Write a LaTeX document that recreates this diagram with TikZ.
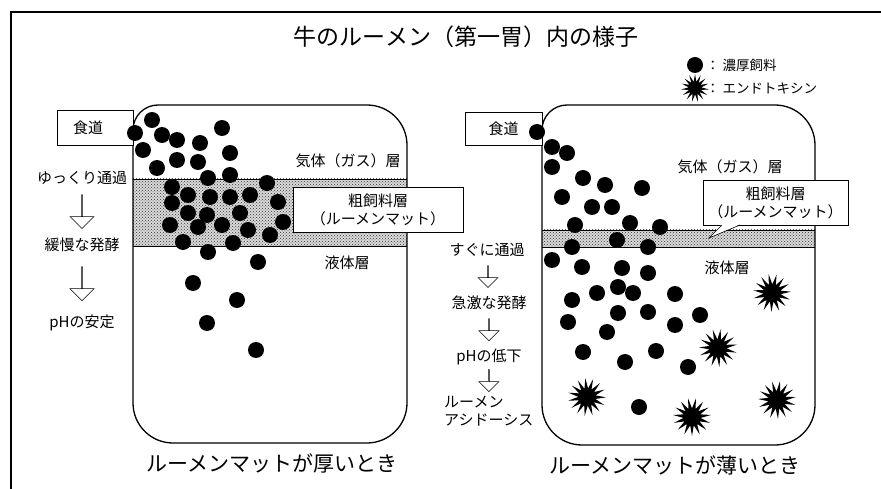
\documentclass[tikz,border=0pt]{standalone}
\usepackage{fontspec}
\newfontfamily\jp{Noto Sans CJK JP}
\usetikzlibrary{shapes.geometric,shapes.arrows,patterns,positioning,calc}

\tikzset{
	every node/.style={font=\jp\fontsize{15}{18}\selectfont, inner sep=1pt},
	wall/.style={line width=1.3pt},
	tagbox/.style={draw, fill=white, line width=0.6pt, align=center},
	pellet/.style={circle, fill=black, minimum size=16pt, inner sep=0pt},
	toxin/.style={star, star points=15, star point ratio=2.2, fill=black, minimum size=38pt, inner sep=0pt},
	flow/.style={single arrow, draw, fill=white, line width=0.5pt, shape border rotate=270, inner sep=0pt, minimum height=34pt, minimum width=24pt, single arrow head extend=6.5pt},
	flowsmall/.style={flow, minimum height=22pt, minimum width=20pt, single arrow head extend=5.5pt},
}

\begin{document}
\begin{tikzpicture}[x=1pt,y=-1pt]
	\useasboundingbox (0,0) rectangle (881,489);
	\draw[line width=1.2pt] (881,12) -- (11,12) -- (11,489);

	\node[font=\jp\fontsize{23}{27}\selectfont] (title) at (466,37) {牛のルーメン（第一胃）内の様子};
	\node[pellet] (keyfeed) at (695,65) {};
	\node[toxin, minimum size=28pt] (keytox) at (695,88) {};
	\node[anchor=west, font=\jp\fontsize{13.5}{16}\selectfont] (keyfeedtxt) at (705,65) {： 濃厚飼料};
	\node[anchor=west, font=\jp\fontsize{13.5}{16}\selectfont] (keytoxtxt) at (705,88) {： エンドトキシン};

	\fill[gray!30] (133,179) rectangle (407,246);
	\fill[pattern=crosshatch dots, pattern color=black!80] (133,179) rectangle (407,246);
	\fill[gray!30] (542,230) rectangle (815,247);
	\fill[pattern=crosshatch dots, pattern color=black!80] (542,230) rectangle (815,247);

	\draw[wall] (133,145) [rounded corners=40pt] -- (133,443) -- (407,443) -- (407,105) [rounded corners=25pt] -- (133,105) -- (133,135);
	\draw[wall] (542,145) [rounded corners=40pt] -- (542,445) -- (815,445) -- (815,105) [rounded corners=25pt] -- (542,105) -- (542,135);
	\draw[line width=0.9pt] (133,179) -- (407,179) (133,246) -- (407,246);
	\draw[line width=0.9pt] (542,230) -- (815,230) (542,247) -- (815,247);

	\node[tagbox, minimum width=76pt, minimum height=35pt] (gulletl) at (95,127.5) {食道\hspace{14pt}};
	\node[tagbox, minimum width=77pt, minimum height=33pt] (gulletr) at (503.5,128.5) {食道};

	\node (gasl) at (348,161) {気体（ガス）層};
	\node[tagbox, minimum width=170pt, minimum height=45pt] (matl) at (378,209.5) {粗飼料層\\（ルーメンマット）};
	\node (liql) at (347,263) {液体層};
	\node (gasr) at (730,167) {気体（ガス）層};
	\node[tagbox, minimum width=145pt, minimum height=45pt] (matr) at (775.5,202.5) {粗飼料層\\（ルーメンマット）};
	\coordinate (matrtip) at (709,238);
	\fill[white] (722,224.4) -- (matrtip) -- (740,224.4) -- cycle;
	\draw[line width=0.6pt] (722,225) -- (matrtip) -- (740,225);
	\node (liqr) at (727,268) {液体層};

	\node (slowpass) at (82,178) {ゆっくり通過};
	\node (slowferm) at (82,245) {緩慢な発酵};
	\node (phstable) at (82,323) {pHの安定};
	\path (slowpass.south) -- node[flow] {} (slowferm.north);
	\path (slowferm.south) -- node[flow] {} (phstable.north);

	\node (fastpass) at (487,250) {すぐに通過};
	\node (fastferm) at (489,303) {急激な発酵};
	\node (phdrop) at (489,357) {pHの低下};
	\node[anchor=west, align=left] (acidosis) at (443,411) {ルーメン\\アシドーシス};
	\path (fastpass.south) -- node[flowsmall] {} (fastferm.north);
	\path (fastferm.south) -- node[flowsmall] {} (phdrop.north);
	\path (phdrop.south) -- node[flowsmall] {} (acidosis.north);

	\foreach \x/\y [count=\i] in {152/120, 135/133, 162/135, 177/140, 222/128, 143/150, 200/143, 230/153, 177/160, 157/168, 198/162, 208/178, 230/175, 172/187, 267/183, 188/195, 210/197, 230/197, 250/195, 172/203, 278/202, 188/213, 207/215, 240/213, 170/225, 198/227, 222/225, 248/230, 283/222, 270/235, 183/242, 233/243, 208/252, 258/262, 193/283, 237/300, 207/323, 256/350}
		\node[pellet] (thick\i) at (\x,\y) {};
	\foreach \x/\y [count=\i] in {537/132, 552/147, 567/153, 552/167, 583/178, 605/185, 642/188, 562/197, 592/207, 612/207, 575/225, 630/223, 660/227, 572/247, 617/240, 648/247, 552/260, 582/267, 622/268, 648/273, 597/293, 618/287, 633/293, 675/294, 572/300, 618/313, 648/312, 700/315, 568/322, 675/325, 607/332, 583/352, 656/351, 625/362, 688/367, 639/407}
		\node[pellet] (thin\i) at (\x,\y) {};
	\foreach \x/\y/\r [count=\i] in {772/293/10, 718/348/-8, 587/397/5, 692/417/-12, 777/400/15}
		\node[toxin, rotate=\r] (tox\i) at (\x,\y) {};

	\node[font=\jp\fontsize{21}{24}\selectfont] (capl) at (272,463) {ルーメンマットが厚いとき};
	\node[font=\jp\fontsize{21}{24}\selectfont] (capr) at (675,465) {ルーメンマットが薄いとき};
\end{tikzpicture}
\end{document}
